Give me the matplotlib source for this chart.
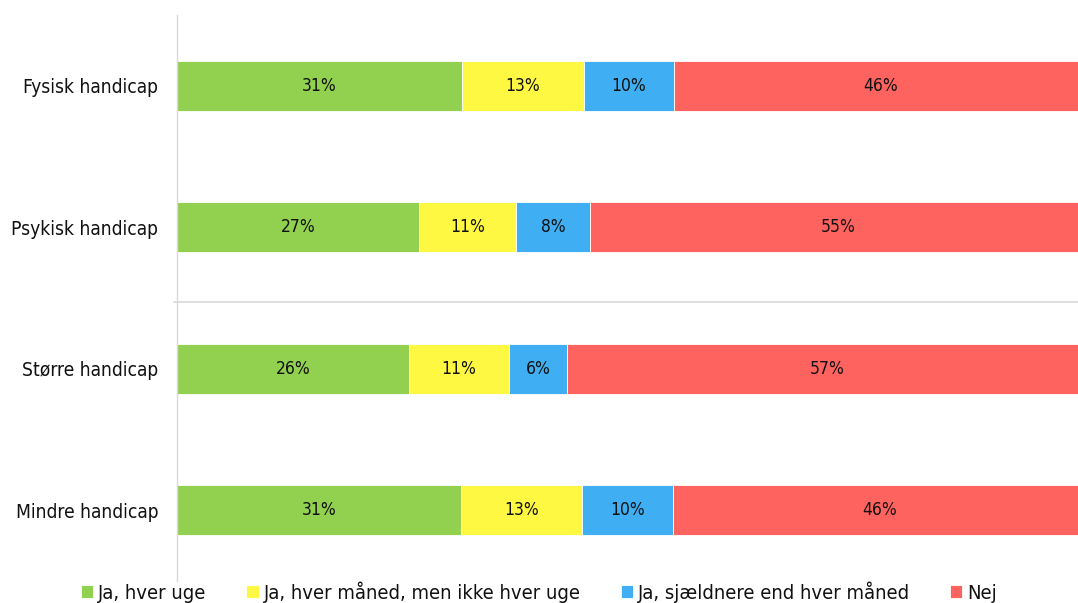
import matplotlib.pyplot as plt
import numpy as np

# data (shares in %, labels as printed)
categories = ["Fysisk handicap", "Psykisk handicap", "Større handicap", "Mindre handicap"]
series = ["Ja, hver uge", "Ja, hver måned, men ikke hver uge",
          "Ja, sjældnere end hver måned", "Nej"]
values = [
    [31.3, 13.4, 9.9, 45.4],
    [26.6, 10.6, 8.2, 54.6],
    [25.5, 11.0, 6.4, 57.1],
    [31.2, 13.3, 10.0, 45.5],
]
labels = [
    ["31%", "13%", "10%", "46%"],
    ["27%", "11%", "8%", "55%"],
    ["26%", "11%", "6%", "57%"],
    ["31%", "13%", "10%", "46%"],
]
colors = ["#92D050", "#FFF843", "#3FAEF2", "#FF6360"]

font = dict(family="DejaVu Sans", stretch="condensed")
plt.rcParams["font.family"] = "DejaVu Sans"

fig = plt.figure(figsize=(10.78, 6.03), dpi=100)
# axes runs slightly past the right edge of the figure (as in the original)
ax = fig.add_axes([177 / 1078, 1 - 581 / 603, 910 / 1078, 566 / 603])

vals = np.array(values)
y = np.arange(len(categories))
left = np.zeros(len(categories))
for j, name in enumerate(series):
    bars = ax.barh(y, vals[:, j], left=left, height=0.354, color=colors[j],
                   edgecolor="white", linewidth=0.6, label=name)
    for i, b in enumerate(bars):
        ax.text(left[i] + vals[i, j] / 2, y[i], labels[i][j], ha="center",
                va="center", fontsize=12.5, color="#111111", **font)
    left += vals[:, j]

ax.set_xlim(0, 100)
ax.set_ylim(3.5, -0.5)
ax.set_yticks(y)
ax.set_yticklabels(categories, fontsize=13.8, color="#111111", **font)
ax.tick_params(axis="y", length=0, pad=13.5)
ax.set_xticks([])
for s in ["top", "right", "bottom"]:
    ax.spines[s].set_visible(False)
ax.spines["left"].set_color("#D9D9D9")
ax.spines["left"].set_linewidth(1)
ax.axhline(1.53, xmin=-0.003, xmax=1, color="#D9D9D9", linewidth=1.2, clip_on=False)

leg = fig.legend(loc="center", bbox_to_anchor=(0.5, 1 - 592 / 603), ncol=4,
                 frameon=False, handlelength=0.6, handleheight=0.6,
                 handletextpad=0.25, columnspacing=2.0,
                 prop=dict(size=14.5, **font))
for t in leg.get_texts():
    t.set_color("#111111")

fig.savefig("out.png", dpi=100)
